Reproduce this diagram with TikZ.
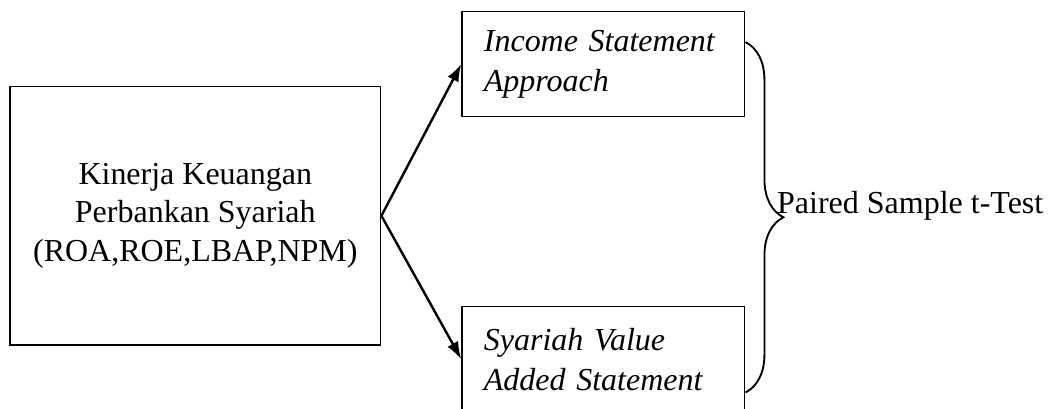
\documentclass[tikz,border=0pt]{standalone}
\usepackage{fontspec}
\setmainfont{Liberation Serif}
\usetikzlibrary{arrows.meta}
\usetikzlibrary{decorations.pathreplacing}

\tikzset{
  kotak/.style={draw, line width=0.5pt, font=\fontsize{12}{14.5}\selectfont},
  kotakmiring/.style={kotak, minimum width=3.73cm, minimum height=1.39cm,
    text width=3.15cm, inner xsep=0.29cm, align=left, font=\fontsize{12}{15}\selectfont\itshape},
  panah/.style={-{Latex[length=6.5pt,width=4.6pt]}, line width=0.9pt},
}

\begin{document}
\begin{tikzpicture}
\useasboundingbox (0,0) rectangle (13.87,5.38);
\clip (0,0) rectangle (13.87,5.38);

%left one
\node[kotak, minimum width=4.89cm, minimum height=3.41cm, align=center] (kinerja) at (2.575,2.535)
  {Kinerja Keuangan\\Perbankan Syariah\\(ROA,ROE,LBAP,NPM)};

% right ones
\node[kotakmiring] (income) at (7.955,4.535) {Income Statement Approach};
\node[kotakmiring] (syariah) at (7.955,0.645) {Syariah Value Added Statement};

\draw[panah] (kinerja.east) -- (income.west);
\draw[panah] (kinerja.east) -- (syariah.west);

% brace
\coordinate (atas) at ([yshift=0.29cm]income.east);
\coordinate (bawah) at ([yshift=-0.44cm]syariah.east);
\draw[decorate, decoration={brace, amplitude=0.5cm}, line width=0.7pt] (atas) -- (bawah);
\node[anchor=base west, inner sep=0pt, font=\fontsize{12}{14.5}\selectfont] (uji) at (10.24,2.57) {Paired Sample t-Test};

\end{tikzpicture}
\end{document}
